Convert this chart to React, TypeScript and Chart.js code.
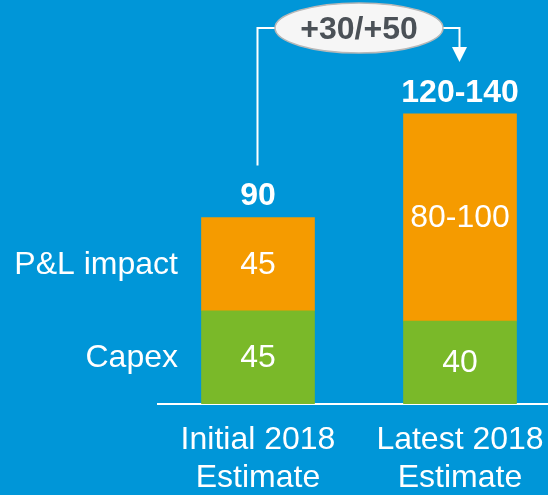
import React, { useEffect, useRef } from "react";
import { Chart, registerables } from "chart.js";

Chart.register(...registerables);

// ---- data ----
const categories: string[][] = [["Initial 2018", "Estimate"], ["Latest 2018", "Estimate"]];
const xPositions = [0, 1];
const seriesNames = ["Capex", "P&L impact"];
const capexValues = [45, 40];
const plImpactValues = [45, 100];
const capexLabels = ["45", "40"];
const plImpactLabels = ["45", "80-100"];
const totalValues = [90, 140];
const totalLabels = ["90", "120-140"];
const deltaLabel = "+30/+50";

const BG = "#0096D8";
const GREEN = "#7AB929";
const ORANGE = "#F59B00";
const FONT = "'Liberation Sans', Arial, sans-serif";
const FS = 32;

const annotPlugin = {
  id: "annot",
  beforeDraw(chart: any) {
    const { ctx, width, height } = chart;
    ctx.save();
    ctx.fillStyle = BG;
    ctx.fillRect(0, 0, width, height);
    ctx.restore();
  },
  afterDatasetsDraw(chart: any) {
    const { ctx } = chart;
    const xs = chart.scales.x;
    const ys = chart.scales.y;
    ctx.save();
    // segment labels
    const segLabels = [capexLabels, plImpactLabels];
    chart.data.datasets.forEach((ds: any, di: number) => {
      const meta = chart.getDatasetMeta(di);
      meta.data.forEach((el: any, i: number) => {
        ctx.font = `${FS}px ${FONT}`;
        ctx.fillStyle = "#ffffff";
        ctx.textAlign = "center";
        ctx.textBaseline = "middle";
        ctx.fillText(segLabels[di][i], el.x, (el.y + el.base) / 2 + 1);
      });
      // series name labels at left of first bar
      const el0 = meta.data[0];
      ctx.font = `${FS}px ${FONT}`;
      ctx.textAlign = "right";
      ctx.fillText(ds.label, el0.x - 80, (el0.y + el0.base) / 2 + 1);
    });
    // totals
    ctx.font = `bold ${FS}px ${FONT}`;
    ctx.textAlign = "center";
    totalValues.forEach((v, i) => {
      const x = xs.getPixelForValue(xPositions[i]);
      const y = ys.getPixelForValue(v);
      ctx.fillText(totalLabels[i], x, y - 21);
    });
    // connector
    const x1 = Math.round(xs.getPixelForValue(xPositions[0])) - 0.5;
    const x2 = Math.round(xs.getPixelForValue(xPositions[1])) - 0.5;
    const y1 = ys.getPixelForValue(totalValues[0]) - 52;
    const cx = (x1 + x2) / 2 + 0.5;
    const cy = 28;
    const rx = 84;
    const ry = 25;
    ctx.strokeStyle = "#ffffff";
    ctx.lineWidth = 2;
    ctx.beginPath();
    ctx.moveTo(x1, y1);
    ctx.lineTo(x1, cy);
    ctx.lineTo(cx - rx + 2, cy);
    ctx.moveTo(cx + rx - 2, cy);
    ctx.lineTo(x2, cy);
    ctx.lineTo(x2, 48);
    ctx.stroke();
    ctx.fillStyle = "#ffffff";
    ctx.beginPath();
    ctx.moveTo(x2 - 7.5, 47);
    ctx.lineTo(x2 + 7.5, 47);
    ctx.lineTo(x2, 62);
    ctx.closePath();
    ctx.fill();
    // ellipse
    ctx.beginPath();
    ctx.ellipse(cx, cy, rx, ry, 0, 0, Math.PI * 2);
    ctx.fillStyle = "#f6f6f6";
    ctx.fill();
    ctx.strokeStyle = "#b8b8b8";
    ctx.lineWidth = 1.5;
    ctx.stroke();
    ctx.font = `bold ${FS}px ${FONT}`;
    ctx.fillStyle = "#4B5157";
    ctx.textAlign = "center";
    ctx.textBaseline = "middle";
    ctx.fillText(deltaLabel, cx, cy + 2);
    ctx.restore();
  },
};

export default function App() {
  const ref = useRef<HTMLCanvasElement>(null);
  useEffect(() => {
    document.body.style.margin = "0";
    document.body.style.background = BG;
    const chart = new Chart(ref.current!, {
      type: "bar",
      data: {
        datasets: [
          {
            label: seriesNames[0],
            data: xPositions.map((x, i) => ({ x, y: capexValues[i] })),
            backgroundColor: GREEN,
            barThickness: 113,
            borderWidth: 0,
          },
          {
            label: seriesNames[1],
            data: xPositions.map((x, i) => ({ x, y: plImpactValues[i] })),
            backgroundColor: ORANGE,
            barThickness: 113,
            borderWidth: 0,
          },
        ],
      },
      options: {
        responsive: false,
        animation: false,
        layout: { padding: { left: 158, right: 0, top: 0, bottom: 0 } },
        plugins: { legend: { display: false }, tooltip: { enabled: false } },
        scales: {
          x: {
            type: "linear",
            stacked: true,
            offset: false,
            min: -0.495,
            max: 1.4356,
            grid: { display: false, drawTicks: false },
            border: { display: true, color: "#ffffff", width: 2 },
            afterBuildTicks: (scale: any) => {
              scale.ticks = xPositions.map((v) => ({ value: v }));
            },
            afterFit: (scale: any) => {
              scale.height = 91;
              scale.paddingLeft = 0;
              scale.paddingRight = 0;
            },
            ticks: {
              autoSkip: false,
              maxRotation: 0,
              minRotation: 0,
              padding: 17,
              color: "#ffffff",
              font: { family: FONT, size: FS, lineHeight: 1.19 },
              callback: (value: any) => {
                const idx = xPositions.indexOf(Number(value));
                return idx >= 0 ? categories[idx] : "";
              },
            },
          },
          y: {
            stacked: true,
            display: false,
            min: 0,
            max: 195,
          },
        },
      },
      plugins: [annotPlugin],
    } as any);
    return () => chart.destroy();
  }, []);
  return (
    <div style={{ position: "fixed", left: 0, top: 0, width: 548, height: 495, background: BG }}>
      <canvas ref={ref} width={548} height={495} style={{ display: "block" }} />
    </div>
  );
}
